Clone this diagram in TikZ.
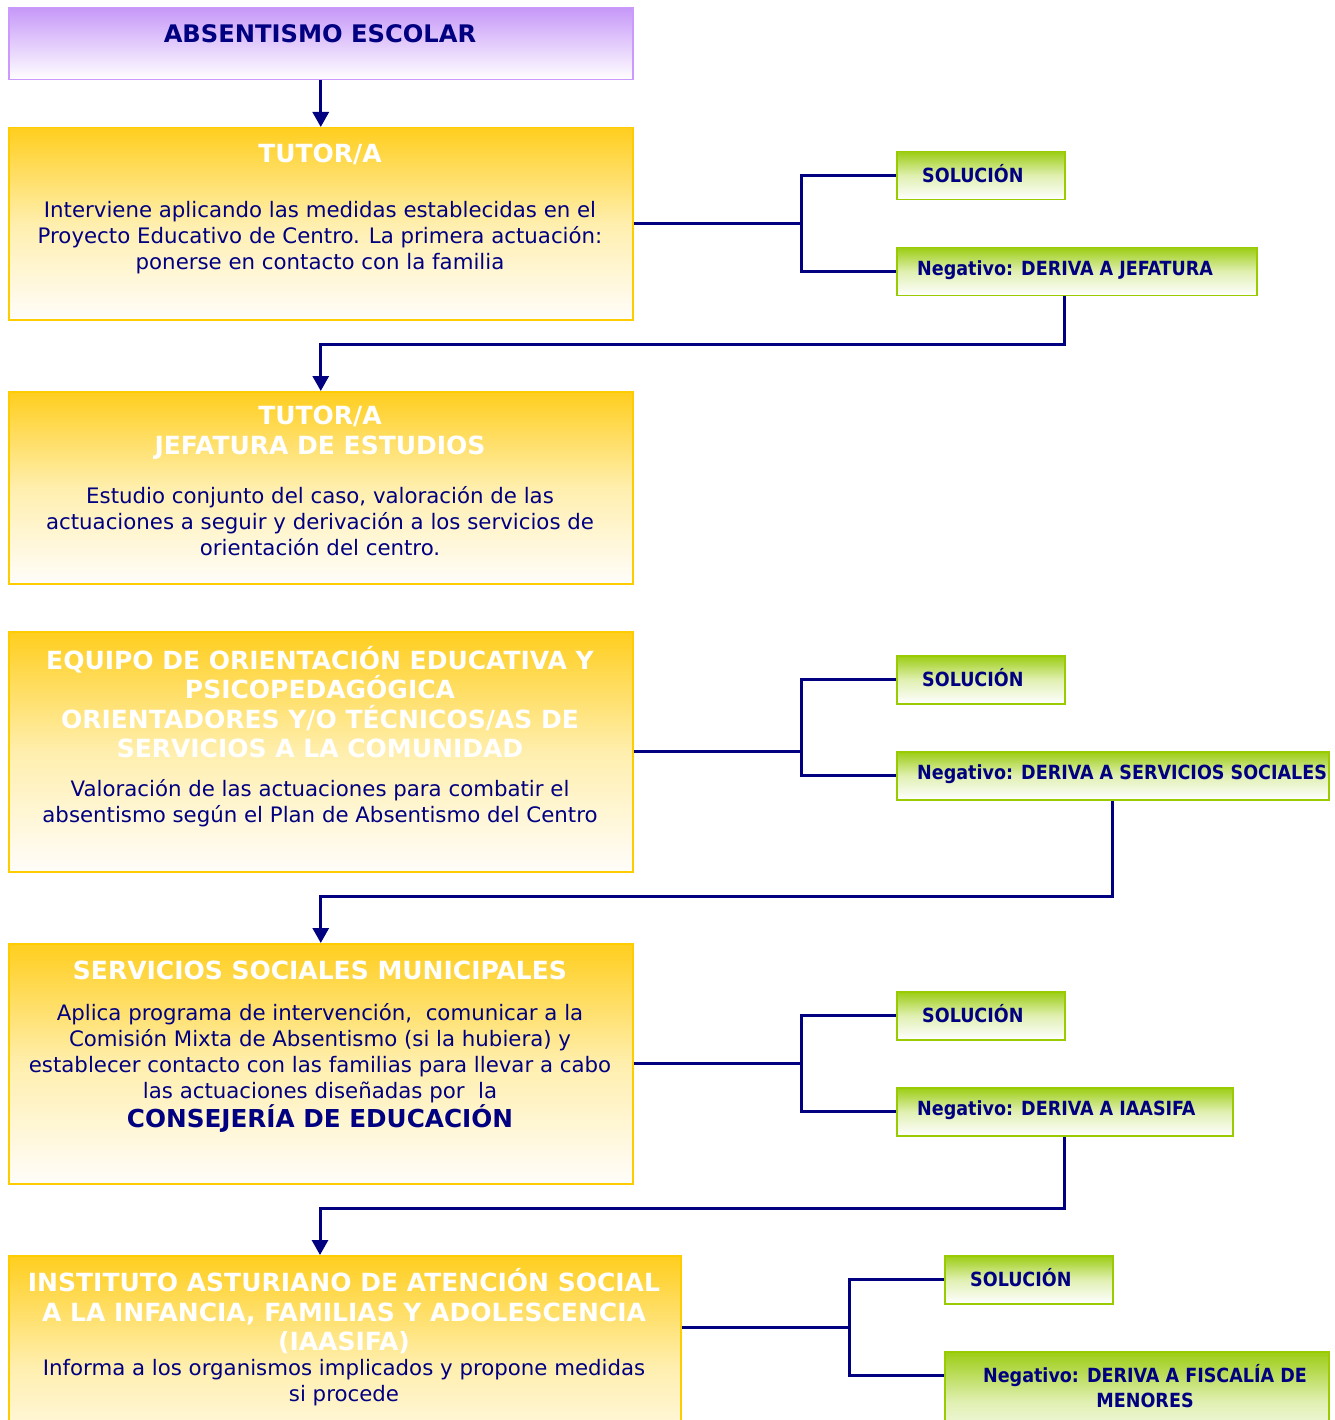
\documentclass[tikz,border=0pt]{standalone}
\usepackage{fontspec}
\setmainfont{DejaVu Sans}
\newfontfamily\greenfont{DejaVu Sans Condensed}
\usetikzlibrary{calc, positioning}
\usetikzlibrary{arrows.meta}

\definecolor{navy}{RGB}{0,0,128}
\definecolor{gold}{RGB}{255,204,0}
\definecolor{goldtop}{RGB}{255,206,30}
\definecolor{goldlow}{RGB}{255,253,250}
\definecolor{lilac}{RGB}{204,153,255}
\definecolor{lilactop}{RGB}{198,152,248}
\definecolor{lime}{RGB}{153,204,0}
\definecolor{limetop}{RGB}{156,205,20}

\tikzset{
  stagebox/.style={draw=gold, line width=1.5pt, top color=goldtop, bottom color=goldlow,
    middle color={gold!32!white}, anchor=north west, inner sep=0pt},
  headbox/.style={draw=lilac, line width=1.5pt, top color=lilactop, bottom color=white,
    anchor=north west, inner sep=0pt},
  outbox/.style={draw=lime, line width=1.5pt, top color=limetop, bottom color=white,
    middle color={lime!30!white}, anchor=north west, inner sep=0pt, minimum height=48pt},
  stagetitle/.style={text=white, font=\fontsize{25}{29.5}\selectfont\bfseries, align=center, inner sep=0pt},
  stagetext/.style={text=navy, font=\fontsize{21.3}{26}\selectfont, align=center, inner sep=0pt},
  outtext/.style={text=navy, font=\greenfont\fontsize{19.5}{25}\selectfont\bfseries, align=center, inner sep=0pt},
  conn/.style={draw=navy, line width=3pt},
  tip/.style={-{Triangle[length=15pt, width=16pt]}}
}

\begin{document}
\begin{tikzpicture}[x=1pt, y=-1pt]
\useasboundingbox (0,0) rectangle (1334,1420);
\clip (0,0) rectangle (1334,1420);

% boxes of the left column
\node[headbox, minimum width=624pt, minimum height=72pt] (head) at (8,7) {};
\node[stagebox, minimum width=624pt, minimum height=192pt] (tutor) at (8,127) {};
\node[stagebox, minimum width=624pt, minimum height=192pt] (jefatura) at (8,391) {};
\node[stagebox, minimum width=624pt, minimum height=240pt] (equipo) at (8,631) {};
\node[stagebox, minimum width=624pt, minimum height=240pt] (sociales) at (8,943) {};
\node[stagebox, minimum width=672pt, minimum height=220pt] (iaasifa) at (8,1255) {};

% texts of the left column
\node[text=navy, font=\fontsize{24.2}{28}\selectfont\bfseries, inner sep=0pt] (headT) at (320,34) {ABSENTISMO ESCOLAR};

\node[stagetitle] (tutorT) at (320,154) {TUTOR/A};
\node[stagetext] (tutorB) at (320,237.5) {Interviene aplicando las medidas establecidas en el\\
  Proyecto Educativo de Centro. La primera actuación:\\ponerse en contacto con la familia};

\node[stagetitle] (jefaturaT) at (320,432.5) {TUTOR/A\\JEFATURA DE ESTUDIOS};
\node[stagetext] (jefaturaB) at (320,521) {Estudio conjunto del caso, valoración de las\\
  actuaciones a seguir y derivación a los servicios de\\orientación del centro.};

\node[stagetitle] (equipoT) at (320,702) {EQUIPO DE ORIENTACIÓN EDUCATIVA Y\\PSICOPEDAGÓGICA\\
  ORIENTADORES Y/O TÉCNICOS/AS DE\\SERVICIOS A LA COMUNIDAD};
\node[stagetext] (equipoB) at (320,803) {Valoración de las actuaciones para combatir el\\
  absentismo según el Plan de Absentismo del Centro};

\node[stagetitle] (socialesT) at (320,970) {SERVICIOS SOCIALES MUNICIPALES};
\node[stagetext] (socialesB) at (320,1053.5) {Aplica programa de intervención,\ \ comunicar a la\\
  Comisión Mixta de Absentismo (si la hubiera) y\\establecer contacto con las familias para llevar a cabo\\
  las actuaciones diseñadas por\ \ la};
\node[text=navy, font=\fontsize{24.7}{30}\selectfont\bfseries, inner sep=0pt] (socialesC) at (320,1119) {CONSEJERÍA DE EDUCACIÓN};

\node[stagetitle] (iaasifaT) at (344,1311.5) {INSTITUTO ASTURIANO DE ATENCIÓN SOCIAL\\
  A LA INFANCIA, FAMILIAS Y ADOLESCENCIA\\(IAASIFA)};
\node[stagetext] (iaasifaB) at (344,1382.5) {Informa a los organismos implicados y propone medidas\\si procede};

% outcome boxes
\node[outbox, minimum width=168pt] (sol1) at (896,151) {};
\node[outbox, minimum width=360pt] (neg1) at (896,247) {};
\node[outbox, minimum width=168pt] (sol2) at (896,655) {};
\node[outbox, minimum width=432pt] (neg2) at (896,751) {};
\node[outbox, minimum width=168pt] (sol3) at (896,991) {};
\node[outbox, minimum width=336pt] (neg3) at (896,1087) {};
\node[outbox, minimum width=168pt] (sol4) at (944,1255) {};
\node[outbox, minimum width=384pt, minimum height=100pt] (neg4) at (944,1351) {};

\node[outtext, anchor=west] at ($(sol1.west)+(26,-2)$) {SOLUCIÓN};
\node[outtext, anchor=west] at ($(neg1.west)+(21,-2)$) {Negativo: DERIVA A JEFATURA};
\node[outtext, anchor=west] at ($(sol2.west)+(26,-2)$) {SOLUCIÓN};
\node[outtext, anchor=west] at ($(neg2.west)+(21,-2)$) {Negativo: DERIVA A SERVICIOS SOCIALES};
\node[outtext, anchor=west] at ($(sol3.west)+(26,-2)$) {SOLUCIÓN};
\node[outtext, anchor=west] at ($(neg3.west)+(21,-2)$) {Negativo: DERIVA A IAASIFA};
\node[outtext, anchor=west] at ($(sol4.west)+(26,-2)$) {SOLUCIÓN};
\node[outtext] at (1145,1386) {Negativo: DERIVA A FISCALÍA DE\\MENORES};

% forks
\coordinate (k1) at ($(tutor.east)+(168,0)$);
\coordinate (k2) at ($(equipo.east)+(168,0)$);
\coordinate (k3) at ($(sociales.east)+(168,0)$);
\coordinate (iaasifaE) at ($(iaasifa.north east)+(0,72)$);
\coordinate (k4) at ($(iaasifaE)+(168,0)$);
\coordinate (neg4W) at ($(neg4.north west)+(0,24)$);

\draw[conn] (tutor.east) -- (k1) |- (sol1.west);
\draw[conn] (k1) |- (neg1.west);
\draw[conn] (equipo.east) -- (k2) |- (sol2.west);
\draw[conn] (k2) |- (neg2.west);
\draw[conn] (sociales.east) -- (k3) |- (sol3.west);
\draw[conn] (k3) |- (neg3.west);
\draw[conn] (iaasifaE) -- (k4) |- (sol4.west);
\draw[conn] (k4) |- (neg4W);

% downward links
\draw[conn, tip] (head.south) -- (tutor.north);
\draw[conn, tip] ($(neg1.south)+(-12,0)$) -- ++(0,48) -| (jefatura.north);
\draw[conn, tip] (neg2.south) -- ++(0,96) -| (sociales.north);
\draw[conn, tip] (neg3.south) -- ++(0,72) -| ($(iaasifa.north west)+(312,0)$);
\end{tikzpicture}
\end{document}
